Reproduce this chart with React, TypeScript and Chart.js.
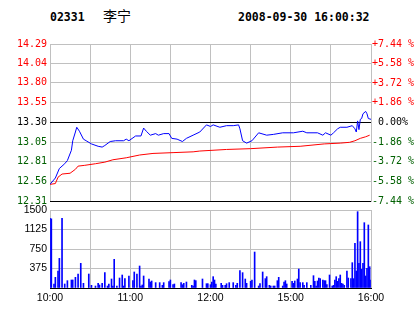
import React, { useEffect, useRef } from "react";
import { Chart, registerables } from "chart.js";
Chart.register(...registerables);

const stockCode = "02331";
const stockName = "李宁";
const stamp = "2008-09-30 16:00:32";

const timeLabels = ["10:00", "11:00", "12:00", "15:00", "16:00"];
const timeLabelMinutes = [0, 60, 120, 180, 240];
const priceTickLabels = ["12.31", "12.56", "12.81", "13.05", "13.30", "13.55", "13.80", "14.04", "14.29"];
const pctTickValues = [-7.44, -5.58, -3.72, -1.86, 0, 1.86, 3.72, 5.58, 7.44];
const pctTickLabels = ["-7.44 %", "-5.58 %", "-3.72 %", "-1.86 %", " 0.00%", "+1.86 %", "+3.72 %", "+5.58 %", "+7.44 %"];
const volTickValues = [0, 375, 750, 1125, 1500];
const prevClose = 13.3;

const priceMinutes = [0, 4, 7, 11, 13, 16, 17, 19, 20, 22, 25, 27, 31, 36, 39, 41, 45, 49, 55, 57, 59, 64, 68, 70, 72, 75, 79, 81, 85, 89, 91, 95, 99, 102, 107, 112, 117, 120, 122, 127, 132, 137, 141, 142, 144, 147, 151, 156, 162, 167, 174, 182, 189, 192, 200, 204, 206, 210, 212, 215, 217, 222, 226, 228, 229, 230, 231, 232, 233, 234, 236, 237, 238, 240];
const prices = [12.52, 12.6, 12.72, 12.78, 12.82, 12.95, 13.07, 13.18, 13.24, 13.19, 13.09, 13.07, 13.03, 13.0, 12.99, 13.01, 13.06, 13.07, 13.07, 13.09, 13.07, 13.13, 13.13, 13.23, 13.19, 13.14, 13.16, 13.14, 13.16, 13.16, 13.1, 13.09, 13.06, 13.1, 13.14, 13.18, 13.27, 13.25, 13.27, 13.24, 13.26, 13.26, 13.27, 13.22, 13.07, 13.04, 13.07, 13.17, 13.14, 13.15, 13.17, 13.17, 13.19, 13.17, 13.17, 13.14, 13.17, 13.14, 13.17, 13.22, 13.24, 13.24, 13.26, 13.22, 13.18, 13.32, 13.21, 13.34, 13.35, 13.41, 13.44, 13.41, 13.35, 13.34];

const avgMinutes = [0, 4, 6, 9, 15, 19, 21, 26, 34, 41, 47, 57, 67, 77, 92, 107, 112, 132, 150, 170, 187, 205, 217, 224, 228, 232, 236, 239];
const avgPrices = [12.52, 12.53, 12.61, 12.65, 12.66, 12.71, 12.75, 12.76, 12.78, 12.8, 12.83, 12.855, 12.89, 12.91, 12.92, 12.93, 12.94, 12.96, 12.97, 12.99, 13.0, 13.03, 13.04, 13.05, 13.07, 13.1, 13.12, 13.14];

const volMinutes = [0, 1, 3, 4, 6, 7, 9, 11, 13, 16, 17, 19, 21, 23, 25, 29, 31, 34, 36, 37, 39, 41, 43, 44, 46, 47, 48, 50, 52, 54, 55, 56, 59, 62, 63, 65, 67, 68, 69, 70, 74, 75, 76, 79, 82, 84, 85, 89, 90, 92, 93, 98, 99, 100, 102, 106, 107, 108, 109, 114, 117, 118, 120, 121, 122, 123, 124, 128, 129, 131, 132, 134, 137, 139, 140, 142, 144, 146, 147, 150, 151, 153, 156, 157, 159, 161, 162, 164, 165, 167, 168, 170, 171, 174, 175, 176, 177, 181, 182, 183, 185, 186, 187, 189, 190, 192, 195, 197, 198, 199, 200, 201, 202, 204, 205, 206, 207, 209, 211, 212, 213, 214, 215, 216, 217, 218, 219, 220, 222, 223, 225, 226, 227, 228, 229, 230, 231, 232, 233, 234, 235, 236, 237, 238, 239, 240];
const volumes = [1340, 1330, 77, 205, 327, 570, 1340, 77, 141, 154, 154, 205, 269, 474, 90, 269, 51, 38, 90, 58, 90, 295, 38, 77, 173, 38, 551, 38, 192, 250, 38, 180, 231, 141, 308, 269, 423, 38, 58, 231, 173, 115, 135, 103, 103, 51, 103, 122, 154, 64, 77, 103, 64, 90, 115, 51, 38, 154, 141, 173, 83, 83, 64, 115, 218, 154, 77, 90, 51, 51, 83, 103, 103, 51, 90, 333, 295, 173, 90, 128, 154, 692, 38, 83, 308, 180, 218, 51, 38, 38, 38, 141, 205, 38, 115, 141, 77, 128, 90, 135, 173, 365, 103, 103, 51, 103, 51, 237, 128, 38, 135, 192, 180, 154, 141, 141, 64, 250, 38, 51, 154, 218, 128, 180, 250, 90, 77, 51, 327, 192, 180, 487, 180, 859, 327, 1468, 474, 891, 359, 474, 1256, 231, 378, 1212, 410, 154];

const GRID = "#c0c0c0";
const RED = "#ff0000";
const GREEN = "#006000";
const MONO = "DejaVu Sans Mono";
const SANS = "Liberation Sans";

function priceColor(v: number) {
  if (v > prevClose + 0.001) return RED;
  if (v < prevClose - 0.001) return GREEN;
  return "#000";
}

export default function App() {
  const priceRef = useRef<HTMLCanvasElement>(null);
  const volRef = useRef<HTMLCanvasElement>(null);

  useEffect(() => {
    const priceChart = new Chart(priceRef.current!, {
      type: "line",
      data: {
        datasets: [
          {
            data: priceMinutes.map((m, i) => ({ x: m, y: prices[i] })),
            borderColor: "#0000ff",
            borderWidth: 1,
            pointRadius: 0,
            tension: 0,
            yAxisID: "y",
          },
          {
            data: avgMinutes.map((m, i) => ({ x: m, y: avgPrices[i] })),
            borderColor: RED,
            borderWidth: 1,
            pointRadius: 0,
            tension: 0,
            yAxisID: "y",
          },
        ],
      },
      options: {
        animation: false,
        responsive: false,
        maintainAspectRatio: false,
        layout: { padding: { top: 44, bottom: 7, left: 0, right: 0 } },
        plugins: { legend: { display: false }, tooltip: { enabled: false } },
        scales: {
          x: {
            type: "linear",
            min: 0,
            max: 240,
            ticks: { display: false, stepSize: 30 },
            grid: { color: GRID, drawTicks: false },
            border: { display: true, color: "#000" },
            afterFit: (s: any) => {
              s.height = 0;
            },
          },
          y: {
            type: "linear",
            position: "left",
            min: 12.31,
            max: 14.29,
            afterBuildTicks: (s: any) => {
              s.ticks = priceTickLabels.map((l) => ({ value: parseFloat(l) }));
            },
            ticks: {
              autoSkip: false,
              padding: 3,
              font: { family: MONO, size: 10 },
              color: (ctx: any) => priceColor(ctx.tick.value),
              callback: (_v: any, i: number) => priceTickLabels[i],
            },
            grid: {
              drawTicks: false,
              color: (ctx: any) =>
                Math.abs(ctx.tick.value - prevClose) < 0.001 || Math.abs(ctx.tick.value - 12.31) < 0.001 ? "#000" : GRID,
            },
            border: { display: false },
            afterFit: (s: any) => {
              s.width = 50;
            },
          },
          pct: {
            type: "linear",
            position: "right",
            min: -7.44,
            max: 7.44,
            afterBuildTicks: (s: any) => {
              s.ticks = pctTickValues.map((v) => ({ value: v }));
            },
            ticks: {
              autoSkip: false,
              padding: 1,
              font: { family: MONO, size: 10 },
              color: (ctx: any) => (ctx.tick.value > 0.001 ? RED : ctx.tick.value < -0.001 ? GREEN : "#000"),
              callback: (_v: any, i: number) => pctTickLabels[i],
            },
            grid: { drawOnChartArea: false, drawTicks: false },
            border: { display: true, color: GRID },
            afterFit: (s: any) => {
              s.width = 43;
            },
          },
        },
      },
    } as any);

    const volChart = new Chart(volRef.current!, {
      type: "bar",
      data: {
        datasets: [
          {
            data: volMinutes.map((m, i) => ({ x: m, y: volumes[i] })),
            backgroundColor: "#0000ff",
            barThickness: 1,
            grouped: false,
          },
        ],
      },
      options: {
        animation: false,
        responsive: false,
        maintainAspectRatio: false,
        layout: { padding: { top: 10, bottom: 0, left: 0, right: 43 } },
        plugins: { legend: { display: false }, tooltip: { enabled: false } },
        scales: {
          x: {
            type: "linear",
            min: 0,
            max: 240,
            offset: false,
            ticks: {
              stepSize: 30,
              autoSkip: false,
              maxRotation: 0,
              padding: 4,
              color: "#000",
              font: { family: SANS, size: 10.5 },
              callback: (v: any) => {
                const k = timeLabelMinutes.indexOf(Number(v));
                return k >= 0 ? timeLabels[k] : "";
              },
            },
            grid: { color: GRID, drawTicks: false, offset: false },
            border: { display: true, color: "#000" },
            afterFit: (s: any) => {
              s.height = 26;
            },
          },
          y: {
            type: "linear",
            min: 0,
            max: 1500,
            afterBuildTicks: (s: any) => {
              s.ticks = volTickValues.map((v) => ({ value: v }));
            },
            ticks: {
              autoSkip: false,
              padding: 3,
              color: "#000",
              font: { family: SANS, size: 10.5 },
              callback: (v: any) => (Number(v) === 0 ? "" : String(v)),
            },
            grid: {
              drawTicks: false,
              color: (ctx: any) => (ctx.tick.value === 0 ? "#000" : GRID),
            },
            border: { display: false },
            afterFit: (s: any) => {
              s.width = 50;
            },
          },
        },
      },
    } as any);

    return () => {
      priceChart.destroy();
      volChart.destroy();
    };
  }, []);

  const headStyle: React.CSSProperties = {
    position: "absolute",
    top: 11,
    font: `bold 11.5px "${MONO}"`,
    lineHeight: "12px",
    whiteSpace: "pre",
    color: "#000",
  };

  return (
    <div style={{ position: "absolute", left: 0, top: 0, width: 414, height: 314, background: "#fff", overflow: "hidden" }}>
      <div style={{ ...headStyle, left: 50 }}>{stockCode}</div>
      <div style={{ ...headStyle, left: 103, top: 8, font: '14px "Noto Sans CJK SC"', lineHeight: "14px" }}>{stockName}</div>
      <div style={{ ...headStyle, left: 238 }}>{stamp}</div>
      <canvas ref={priceRef} width={414} height={210} style={{ position: "absolute", left: 0, top: 0 }} />
      <canvas ref={volRef} width={414} height={114} style={{ position: "absolute", left: 0, top: 200 }} />
    </div>
  );
}
